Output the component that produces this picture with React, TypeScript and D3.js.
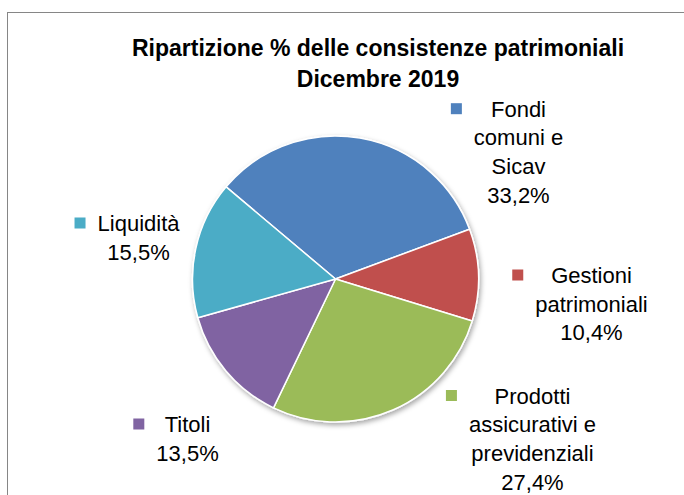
import React from "react";
import * as d3 from "d3";

const categories = ["Fondi comuni e Sicav", "Gestioni patrimoniali", "Prodotti assicurativi e previdenziali", "Titoli", "Liquidità"];
const labelLines = [
  ["Fondi", "comuni e", "Sicav"],
  ["Gestioni", "patrimoniali"],
  ["Prodotti", "assicurativi e", "previdenziali"],
  ["Titoli"],
  ["Liquidità"],
];
const values = [33.2, 10.4, 27.4, 13.5, 15.5];
const valueLabels = ["33,2%", "10,4%", "27,4%", "13,5%", "15,5%"];
const titleLines = ["Ripartizione % delle consistenze patrimoniali", "Dicembre 2019"];

// styles & layout
const colors = ["#4F81BD", "#C0504D", "#9BBB59", "#8064A2", "#4BACC6"];
const W = 684, H = 495;
const CX = 335.5, CY = 279, R = 143;
const START_DEG = -49.9;
// label anchor (text centre x, first baseline y) relative to pie centre
const labelOffsets: [number, number][] = [
  [183, -162.3],
  [256, 4],
  [197, 124.5],
  [-148, 153],
  [-197, -48],
];
const LINE_H = 28.7;
const FONT = "Liberation Sans, Arial, sans-serif";
const LABEL_SIZE = 22;

function measure(text: string, font: string): number {
  if (typeof document === "undefined") return text.length * 10;
  const c = (measure as any).c || ((measure as any).c = document.createElement("canvas"));
  const ctx = c.getContext("2d");
  ctx.font = font;
  return ctx.measureText(text).width;
}

export default function App() {
  const pie = d3
    .pie<number>()
    .sort(null)
    .value((d) => d)
    .startAngle((START_DEG * Math.PI) / 180)
    .endAngle((START_DEG * Math.PI) / 180 + 2 * Math.PI);
  const arcs = pie(values);
  const arc = d3.arc<d3.PieArcDatum<number>>().innerRadius(0).outerRadius(R);

  return (
    <svg
      width={W}
      height={H}
      viewBox={`0 0 ${W} ${H}`}
      style={{ position: "absolute", left: 0, top: 0, background: "#fff" }}
    >
      <defs>
        <filter id="sh" x="-20%" y="-20%" width="140%" height="140%">
          <feDropShadow dx="1.5" dy="2.5" stdDeviation="2.5" floodColor="#000" floodOpacity="0.35" />
        </filter>
      </defs>
      <rect x={7.5} y={12.5} width={W} height={H} fill="#fff" stroke="#868686" strokeWidth={1} />
      <g fontFamily={FONT} fontWeight="bold" fontSize={23} textAnchor="middle" fill="#000">
        {titleLines.map((t, i) => (
          <text key={i} x={378} y={55.5 + i * 31}>
            {t}
          </text>
        ))}
      </g>
      <g transform={`translate(${CX},${CY})`}>
        <g filter="url(#sh)">
          {arcs.map((a, i) => (
            <path key={categories[i]} d={arc(a) || ""} fill={colors[i]} stroke="#fff" strokeWidth={1.5} strokeLinejoin="round" />
          ))}
        </g>
        {arcs.map((a, i) => {
          const lines = [...labelLines[i], valueLabels[i]];
          const [ox, oy] = labelOffsets[i];
          const font = `${LABEL_SIZE}px ${FONT}`;
          const maxW = Math.max(...lines.map((l) => measure(l, font)));
          const keyX = ox - maxW / 2 - 12 - 11;
          return (
            <g key={"l" + i}>
              <rect x={keyX} y={oy - 13.5} width={11} height={11} fill={colors[i]} />
              {lines.map((l, j) => (
                <text
                  key={j}
                  x={ox}
                  y={oy + j * LINE_H}
                  textAnchor="middle"
                  fontFamily={FONT}
                  fontSize={LABEL_SIZE}
                  fill="#000"
                >
                  {l}
                </text>
              ))}
            </g>
          );
        })}
      </g>
    </svg>
  );
}
